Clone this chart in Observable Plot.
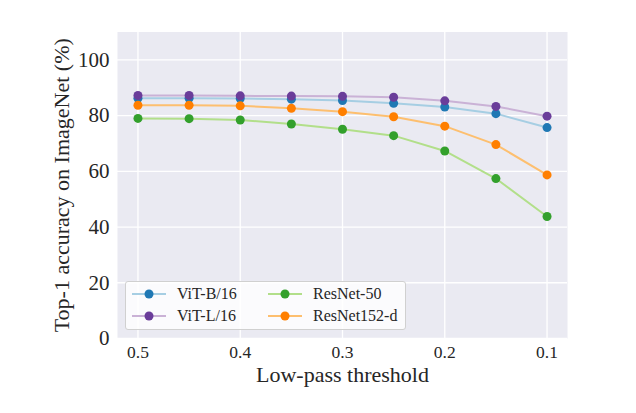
<!DOCTYPE html>
<html>
<head>
<meta charset="utf-8">
<script src="https://cdn.jsdelivr.net/npm/d3@7"></script>
<script src="https://cdn.jsdelivr.net/npm/@observablehq/plot@0.6"></script>
<style>
  html, body { margin: 0; padding: 0; background: #ffffff; }
  #chart { position: relative; width: 636px; height: 413px; }
  .legend {
    position: absolute; left: 125px; top: 281px; width: 279px; height: 47px;
    background: rgba(255,255,255,0.8); border: 1px solid #d0d0d0; border-radius: 3px;
    font-family: "Liberation Serif", "DejaVu Serif", serif; font-size: 16px; color: #262626;
  }
  .legend .item { position: absolute; display: flex; align-items: center; height: 16px; }
  .legend svg { display: block; margin-right: 11px; }
</style>
</head>
<body>
<div id="chart"></div>
<script>
// Low-pass threshold (x) and top-1 accuracy (%) per model
const thresholds = [0.5, 0.45, 0.4, 0.35, 0.3, 0.25, 0.2, 0.15, 0.1];
const vitB16   = [86.2, 86.2, 86.1, 85.9, 85.4, 84.4, 83.1, 80.7, 75.7];
const vitL16   = [87.2, 87.2, 87.1, 87.0, 86.9, 86.6, 85.3, 83.3, 79.8];
const resnet50 = [79.0, 78.9, 78.4, 77.0, 75.1, 72.8, 67.3, 57.4, 43.8];
const resnet152d = [83.7, 83.7, 83.5, 82.6, 81.4, 79.6, 76.2, 69.6, 58.7];

const xTicks = [0.5, 0.4, 0.3, 0.2, 0.1];
const yTicks = [0, 20, 40, 60, 80, 100];

const series = [
  {name: "ViT-B/16",    values: vitB16,     line: "#a6cee3", dot: "#1f78b4"},
  {name: "ViT-L/16",    values: vitL16,     line: "#cab2d6", dot: "#6a3d9a"},
  {name: "ResNet-50",   values: resnet50,   line: "#b2df8a", dot: "#33a02c"},
  {name: "ResNet152-d", values: resnet152d, line: "#fdbf6f", dot: "#ff7f00"}
];

const font = '"Liberation Serif", "DejaVu Serif", serif';
const ink = "#262626";

const seriesMarks = series.flatMap(s => {
  const rows = thresholds.map((t, i) => ({t, v: s.values[i]}));
  return [
    Plot.line(rows, {x: "t", y: "v", stroke: s.line, strokeWidth: 2}),
    Plot.dot(rows, {x: "t", y: "v", fill: s.dot, r: 4.5, stroke: "none"})
  ];
});

const chart = Plot.plot({
  width: 636,
  height: 413,
  marginLeft: 117,
  marginRight: 69,
  marginTop: 31.5,
  marginBottom: 75,
  style: {fontFamily: font, background: "#ffffff", color: ink},
  x: {domain: [0.52, 0.08]},
  y: {domain: [0, 110]},
  marks: [
    Plot.frame({fill: "#eaeaf2", stroke: null}),
    Plot.gridX(xTicks, {stroke: "#ffffff", strokeOpacity: 1, strokeWidth: 1.3}),
    Plot.gridY(yTicks, {stroke: "#ffffff", strokeOpacity: 1, strokeWidth: 1.3}),
    Plot.axisX(xTicks, {tickSize: 0, tickPadding: 7, fontSize: 17.5, fill: ink,
      tickFormat: d => d.toFixed(1), label: null}),
    Plot.axisY(yTicks, {tickSize: 0, tickPadding: 8, fontSize: 21, fill: ink, label: null}),
    ...seriesMarks,
    Plot.text(["Low-pass threshold"], {frameAnchor: "bottom", dy: 36.7, fontSize: 22,
      lineAnchor: "middle", textAnchor: "middle", fill: ink}),
    Plot.text(["Top-1 accuracy on ImageNet (%)"], {frameAnchor: "left", dx: -56, rotate: -90,
      fontSize: 22, lineAnchor: "middle", textAnchor: "middle", fill: ink})
  ]
});

const root = document.getElementById("chart");
root.appendChild(chart);

// Two-column legend, filled column by column
const legend = document.createElement("div");
legend.className = "legend";
const cols = [6, 142];
const rowsY = [4, 26];
series.forEach((s, i) => {
  const item = document.createElement("div");
  item.className = "item";
  item.style.left = cols[Math.floor(i / 2)] + "px";
  item.style.top = rowsY[i % 2] + "px";
  item.innerHTML =
    `<svg width="34" height="12"><line x1="0" x2="34" y1="6" y2="6" stroke="${s.line}" stroke-width="2"/>` +
    `<circle cx="17" cy="6" r="4.5" fill="${s.dot}"/></svg><span>${s.name}</span>`;
  legend.appendChild(item);
});
root.appendChild(legend);
</script>
</body>
</html>
